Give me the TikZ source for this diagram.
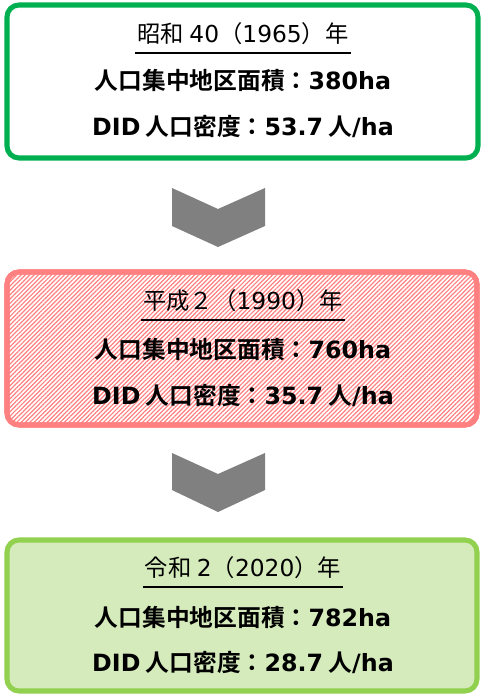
\documentclass[tikz,border=0pt]{standalone}
\usepackage{fontspec}
\setmainfont{Noto Sans CJK JP}[BoldFont={Noto Sans CJK JP Bold}]
\newfontfamily\latinfont{DejaVu Sans}
\usepackage{tikz}
\usetikzlibrary{patterns.meta}
\def\en#1{{\latinfont #1}}
\definecolor{showagreen}{RGB}{0,176,80}
\definecolor{heiseired}{RGB}{255,128,128}
\definecolor{reiwagreen}{RGB}{146,208,80}
\definecolor{reiwafill}{RGB}{213,235,188}
\definecolor{chevrongray}{RGB}{128,128,128}

\begin{document}
\begin{tikzpicture}[x=0.75pt, y=-0.75pt,
	frame/.style={line width=3.8pt, rounded corners=9pt},
	yeartext/.style={font=\fontsize{17.5}{20}\selectfont, inner sep=1.5pt},
	datatext/.style={font=\fontsize{17.8}{20}\selectfont\bfseries},
	rule/.style={line width=1.5pt},
	chevron/.style={fill=chevrongray}]
			%%%%% START %%%%%
			\useasboundingbox (0, 0) rectangle (483, 695);
			
			% 1965
			\draw[frame, draw=showagreen, fill=white] (7, 5) rectangle (478, 158);
			\node[yeartext] (year1) at (243, 34) {昭和 \en{40}（\en{1965}）年};
			\draw[rule] ([yshift=-4pt]year1.south west) -- ([yshift=-4pt]year1.south east);
			\node[datatext] (area1) at (243, 81) {人口集中地区面積：\en{380ha}};
			\node[datatext] (dens1) at (243, 127) {\en{DID} 人口密度：\en{53.7} 人\en{/ha}};
			
			\fill[chevron] (172, 188) -- (218, 209) -- (265, 188) -- (265, 226) -- (218, 247) -- (172, 226) -- cycle;
			
			% 1990
			\draw[frame, draw=heiseired, fill=white] (7, 272) rectangle (477, 425);
			\fill[rounded corners=9pt, pattern={Lines[angle=45, distance=2.3pt, line width=0.9pt]}, pattern color=heiseired] (7, 272) rectangle (477, 425);
			\draw[frame, draw=heiseired] (7, 272) rectangle (477, 425);
			\node[yeartext] (year2) at (243, 301) {平成２（\en{1990}）年};
			\draw[rule] ([yshift=-4pt]year2.south west) -- ([yshift=-4pt]year2.south east);
			\node[datatext] (area2) at (243, 350) {人口集中地区面積：\en{760ha}};
			\node[datatext] (dens2) at (243, 396) {\en{DID} 人口密度：\en{35.7} 人\en{/ha}};
			
			\fill[chevron] (172, 453) -- (218, 474) -- (265, 453) -- (265, 490) -- (218, 512) -- (172, 490) -- cycle;
			
			% 2020
			\draw[frame, draw=reiwagreen, fill=reiwafill] (7, 540) rectangle (477, 691);
			\node[yeartext] (year3) at (243, 568) {令和 \en{2}（\en{2020}）年};
			\draw[rule] ([yshift=-4pt]year3.south west) -- ([yshift=-4pt]year3.south east);
			\node[datatext] (area3) at (243, 617) {人口集中地区面積：\en{782ha}};
			\node[datatext] (dens3) at (243, 663) {\en{DID} 人口密度：\en{28.7} 人\en{/ha}};
			
			%%%%% END %%%%%
		\end{tikzpicture}
\end{document}
